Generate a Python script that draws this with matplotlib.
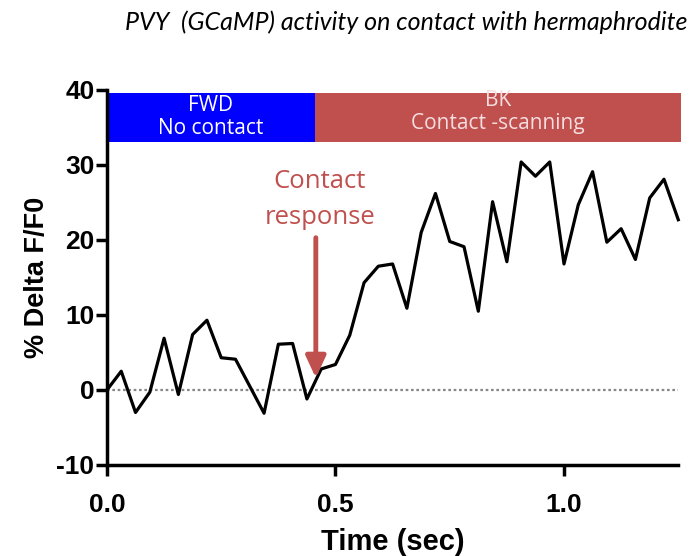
import matplotlib
matplotlib.use("Agg")
import matplotlib.pyplot as plt
from matplotlib.patches import Rectangle

plt.rcParams["axes.unicode_minus"] = False

# ---- data ----
time_sec = [0.0, 0.03125, 0.0625, 0.09375, 0.125, 0.15625, 0.1875, 0.21875,
            0.25, 0.28125, 0.3125, 0.34375, 0.375, 0.40625, 0.4375, 0.46875,
            0.5, 0.53125, 0.5625, 0.59375, 0.625, 0.65625, 0.6875, 0.71875,
            0.75, 0.78125, 0.8125, 0.84375, 0.875, 0.90625, 0.9375, 0.96875,
            1.0, 1.03125, 1.0625, 1.09375, 1.125, 1.15625, 1.1875, 1.21875, 1.25]
delta_f = [0.0, 2.5, -3.0, -0.3, 6.9, -0.6, 7.4, 9.3, 4.3, 4.1, 0.5, -3.1,
           6.1, 6.2, -1.2, 2.8, 3.4, 7.3, 14.3, 16.5, 16.8, 10.9, 21.0, 26.2,
           19.8, 19.1, 10.5, 25.1, 17.1, 30.4, 28.5, 30.4, 16.8, 24.7, 29.1,
           19.7, 21.5, 17.4, 25.6, 28.1, 22.7]

phase_labels = ["FWD\nNo contact", "BK\nContact -scanning"]
phase_starts = [0.0, 0.455]
phase_ends = [0.455, 1.255]
phase_colors = ["#0000ff", "#c0504d"]
phase_text_colors = ["#ffffff", "#f6dde0"]
phase_text_y = [36.4, 37.1]
phase_ylow, phase_yhigh = 33.0, 39.6

x_ticks = [0.0, 0.5, 1.0]
x_tick_labels = ["0.0", "0.5", "1.0"]
y_ticks = [-10, 0, 10, 20, 30, 40]

contact_time = 0.457
red = "#c0504d"

fig = plt.figure(figsize=(6.9, 5.56), dpi=100)
ax = fig.add_axes([0.155, 0.1637, 0.828, 0.6745])

ax.set_xlim(0, 1.25)
ax.set_ylim(-10, 40)

# phase boxes
for s, e, c, lab, tc, ty in zip(phase_starts, phase_ends, phase_colors, phase_labels,
                                phase_text_colors, phase_text_y):
    rect = Rectangle((s, phase_ylow), e - s, phase_yhigh - phase_ylow,
                     facecolor=c, edgecolor="none", zorder=1, clip_on=False)
    ax.add_patch(rect)
    t = ax.text((s + e) / 2, ty, lab, color=tc,
                ha="center", va="center", fontsize=15, family="Open Sans",
                linespacing=1.15, zorder=2)
    t.set_clip_path(rect)

# zero line
ax.axhline(0, color="#888888", linestyle=(0, (1.2, 1.2)), linewidth=1.6, zorder=1)

# trace
ax.plot(time_sec, delta_f, color="black", linewidth=2.3, zorder=3, clip_on=False)

# annotation
ax.text(0.466, 25.4, "Contact\nresponse", color=red, ha="center", va="center",
        fontsize=18.5, family="Open Sans", linespacing=1.55)
ax.annotate("", xy=(contact_time, 1.6), xytext=(contact_time, 20.3),
            arrowprops=dict(arrowstyle="-|>,head_width=0.6,head_length=1.3",
                            color=red, lw=3.5, shrinkA=0, shrinkB=0), zorder=4)

# axes styling
for sp in ["top", "right"]:
    ax.spines[sp].set_visible(False)
for sp in ["left", "bottom"]:
    ax.spines[sp].set_linewidth(2.5)
ax.set_xticks(x_ticks)
ax.set_xticklabels(x_tick_labels)
ax.set_yticks(y_ticks)
ax.tick_params(axis="both", direction="out", length=8, width=2.5)
ax.tick_params(axis="x", pad=12)
ax.tick_params(axis="y", pad=1)
for lbl in ax.get_xticklabels() + ax.get_yticklabels():
    lbl.set_fontfamily("Liberation Sans")
    lbl.set_fontweight("bold")
    lbl.set_fontsize(19)

ax.set_xlabel("Time (sec)", fontsize=21, fontweight="bold", family="Liberation Sans", labelpad=8)
ax.set_ylabel("% Delta F/F0", fontsize=19.5, fontweight="bold", family="Liberation Sans", labelpad=5)

fig.text(0.997, 0.96, "PVY  (GCaMP) activity on contact with hermaphrodite",
         ha="right", va="center", fontsize=18, style="italic", family="Lato")

fig.savefig("out.png", dpi=100)
